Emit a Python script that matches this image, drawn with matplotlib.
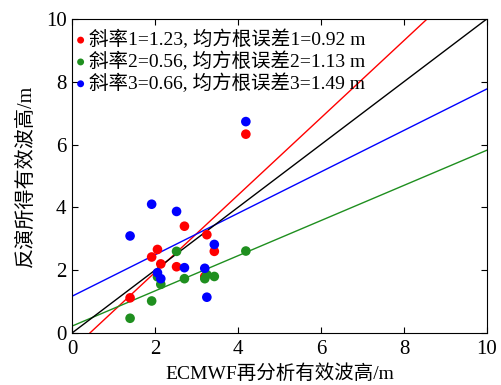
import numpy as np
import matplotlib.pyplot as plt

plt.rcParams['font.family'] = ['Liberation Serif', 'Noto Sans CJK SC']
plt.rcParams['mathtext.fontset'] = 'stix'

# ECMWF reanalysis significant wave height (shared x for the three series)
x_ecmwf = [1.40, 1.92, 2.06, 2.14, 2.52, 2.71, 3.20, 3.25, 3.43, 4.19]
y_red = [1.12, 2.42, 2.66, 2.20, 2.11, 3.40, 1.80, 3.13, 2.60, 6.33]
y_green = [0.47, 1.02, 1.79, 1.55, 2.60, 1.73, 1.73, 1.86, 1.80, 2.61]
y_blue = [3.09, 4.10, 1.92, 1.73, 3.87, 2.08, 2.06, 1.14, 2.82, 6.73]

slopes = [1.23, 0.56, 0.66]
intercepts = [-0.53, 0.22, 1.17]
rmse = [0.92, 1.13, 1.49]
colors = ['red', '#1f8f1f', 'blue']


def main():
    fig = plt.figure(figsize=(5.02, 3.85), dpi=100)
    ax = fig.add_axes([0.1434, 0.135, 0.8266, 0.816])

    xs = np.array([0, 10])
    # fitted lines
    for k, c in enumerate(colors):
        ax.plot(xs, slopes[k] * xs + intercepts[k], color=c, lw=1.0, zorder=2)
    ax.plot(xs, xs, color='black', lw=1.0, zorder=2)

    # scatter points
    for k, (ys, c) in enumerate(zip([y_red, y_green, y_blue], colors)):
        lab = '斜率%d=%.2f, 均方根误差%d=%.2f m' % (k + 1, slopes[k], k + 1, rmse[k])
        ax.scatter(x_ecmwf, ys, s=48, color=c, edgecolors='none', zorder=3, label=lab)

    ax.set_xlim(0, 10)
    ax.set_ylim(0, 10)
    ax.set_xticks(range(0, 11, 2))
    ax.set_yticks(range(0, 11, 2))
    ax.tick_params(direction='in', top=True, right=True, labelsize=15, length=4)
    ax.tick_params(axis='x', pad=5)
    ax.tick_params(axis='y', pad=4)
    ax.set_xlabel('ECMWF再分析有效波高/m', fontsize=14, labelpad=4)
    ax.set_ylabel('反演所得有效波高/m', fontsize=14.5, labelpad=7)

    ax.legend(loc='upper left', bbox_to_anchor=(-0.012, 0.984), frameon=False,
              fontsize=14, markerscale=0.72, handletextpad=0.05, handlelength=0.8,
              borderaxespad=0.0, labelspacing=0.12, borderpad=0.3)

    fig.savefig('out.png', dpi=100)


if __name__ == '__main__':
    main()
